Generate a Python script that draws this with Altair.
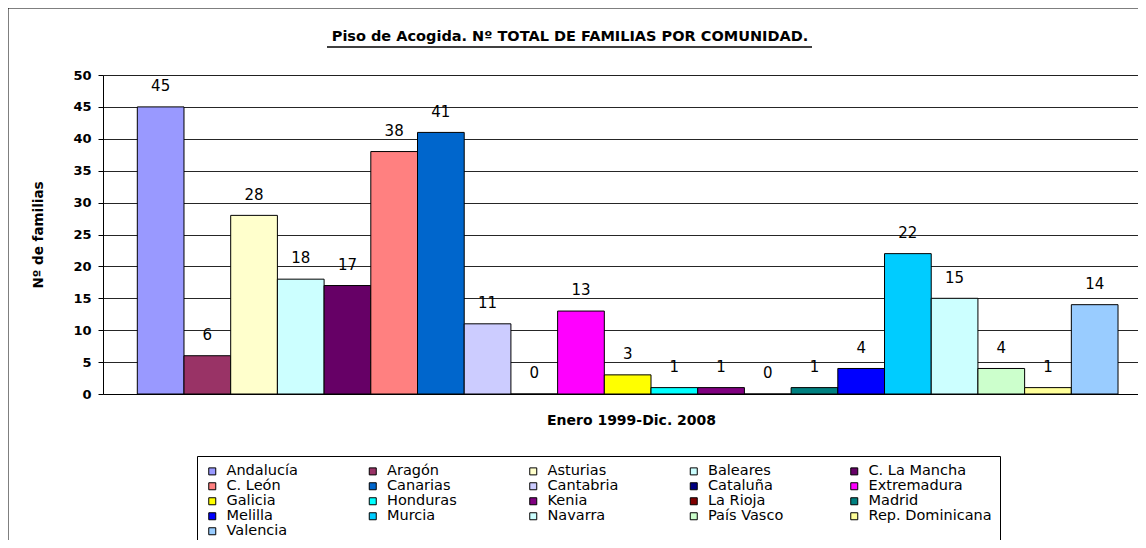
import altair as alt
import pandas as pd

comunidades = ["Andalucía", "Aragón", "Asturias", "Baleares", "C. La Mancha",
               "C. León", "Canarias", "Cantabria", "Cataluña", "Extremadura",
               "Galicia", "Honduras", "Kenia", "La Rioja", "Madrid",
               "Melilla", "Murcia", "Navarra", "País Vasco", "Rep. Dominicana",
               "Valencia"]
familias = [45, 6, 28, 18, 17, 38, 41, 11, 0, 13, 3, 1, 1, 0, 1, 4, 22, 15, 4, 1, 14]
colores = ["#9999FF", "#993366", "#FFFFCC", "#CCFFFF", "#660066",
           "#FF8080", "#0066CC", "#CCCCFF", "#000080", "#FF00FF",
           "#FFFF00", "#00FFFF", "#800080", "#800000", "#008080",
           "#0000FF", "#00CCFF", "#CCFFFF", "#CCFFCC", "#FFFF99",
           "#99CCFF"]
y_ticks = [0, 5, 10, 15, 20, 25, 30, 35, 40, 45, 50]

titulo = "Piso de Acogida. Nº TOTAL DE FAMILIAS POR COMUNIDAD."
titulo_x = "Enero 1999-Dic. 2008"
titulo_y = "Nº de familias"

FONT = "DejaVu Sans"

df = pd.DataFrame({"comunidad": comunidades, "familias": familias})
base = alt.Chart(df)

x_enc = alt.X(
    "comunidad:N", sort=comunidades,
    scale=alt.Scale(paddingInner=0, paddingOuter=0.581, align=0.632),
    axis=alt.Axis(labels=False, ticks=False, title=titulo_x, titleFont=FONT,
                  titleFontSize=14, titleFontWeight="bold", titleColor="black",
                  titlePadding=19, domainColor="black", grid=False, titleX=528),
)
y_enc = alt.Y(
    "familias:Q", scale=alt.Scale(domain=[0, 50], nice=False),
    axis=alt.Axis(values=y_ticks, title=titulo_y, titleFont=FONT, titleFontSize=13.5,
                  titleFontWeight="bold", titleColor="black", titlePadding=27,
                  labelFont=FONT, labelFontSize=13, labelFontWeight="bold",
                  labelColor="black", labelPadding=7, tickColor="black", tickSize=5,
                  domainColor="black", gridColor="black", gridOpacity=0.85,
                  labelOverlap=False),
)

bars = base.mark_bar(stroke="black", strokeWidth=1).encode(
    x=x_enc,
    y=y_enc,
    color=alt.Color(
        "comunidad:N", sort=comunidades,
        scale=alt.Scale(domain=comunidades, range=colores),
        legend=alt.Legend(
            title=None, orient="none", direction="horizontal",
            legendX=94, legendY=381, columns=5,
            gridAlign="all", columnPadding=15.5, rowPadding=0,
            symbolType="square", symbolSize=49, symbolStrokeColor="black",
            symbolStrokeWidth=1, labelFont=FONT, labelFontSize=14.5,
            labelColor="black", labelOffset=7, labelLimit=200,
            strokeColor="black", fillColor="white", padding=8,
        ),
    ),
)

labels = base.mark_text(dy=-15.7, baseline="alphabetic", fontSize=15, font=FONT,
                        color="black").encode(
    x=x_enc,
    y=y_enc,
    text="familias:Q",
)

one = pd.DataFrame({"t": [titulo]})
title_txt = alt.Chart(one).mark_text(font=FONT, fontSize=14.5, fontWeight="bold",
                                     color="black", align="center",
                                     baseline="alphabetic").encode(
    x=alt.value(467), y=alt.value(-34), text="t:N"
)
underline = alt.Chart(one).mark_rule(color="black", strokeWidth=1.5).encode(
    x=alt.value(224), x2=alt.value(709), y=alt.value(-28)
)
frame = alt.Chart(one).mark_rect(fillOpacity=0, stroke="black", strokeWidth=1).encode(
    x=alt.value(-95), x2=alt.value(1300), y=alt.value(-67), y2=alt.value(700)
)

chart = alt.layer(frame, bars, labels, title_txt, underline).properties(
    width=1035, height=319,
    autosize=alt.AutoSizeParams(type="none"),
    padding={"left": 95, "top": 67, "right": 0, "bottom": 146},
).configure_view(
    fill="#FFCC99", stroke=None
).configure(background="white")

chart.save("out.html", embed_options={"renderer": "svg", "actions": False})
